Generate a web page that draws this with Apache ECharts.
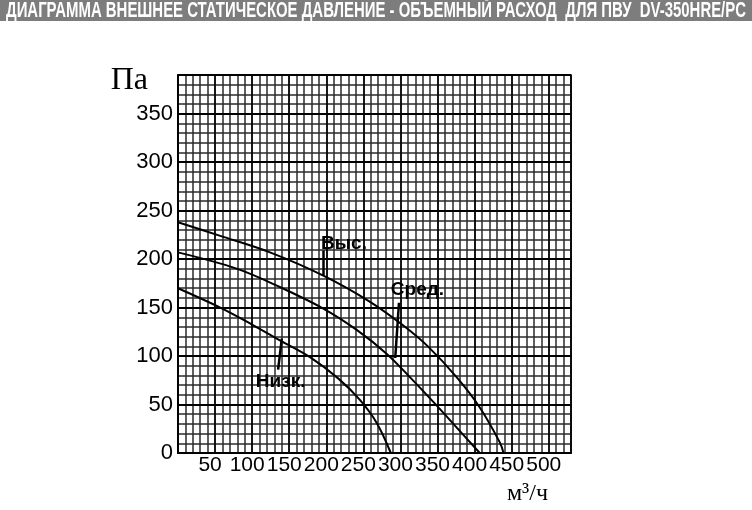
<!DOCTYPE html>
<html><head><meta charset="utf-8">
<script src="https://cdn.jsdelivr.net/npm/echarts@6/dist/echarts.min.js"></script>
<style>html,body{margin:0;padding:0;background:#fff}#c{width:752px;height:510px}</style>
</head><body><div id="c"></div>
<script>
const TITLE = 'ДИАГРАММА ВНЕШНЕЕ СТАТИЧЕСКОЕ ДАВЛЕНИЕ - ОБЪЕМНЫЙ РАСХОД  ДЛЯ ПВУ  DV-350HRE/PC';
const Y_NAME = 'Па';
const X_NAME = 'м³/ч';
const X_MAX = 530;
const Y_MAX = 390;

// curves: flow (m3/h) and static pressure (Pa)
const flowHigh  = [0, 57, 124, 196, 259, 303, 337, 376, 407, 434, 439];
const pressHigh = [238, 224, 207, 183, 156, 132, 110, 78, 47, 11, 0];
const flowMid   = [0, 80, 138, 196, 241, 282, 313, 344, 375, 407];
const pressMid  = [207, 190, 171, 149, 127, 102, 78, 53, 27, 0];
const flowLow   = [0, 57, 101, 138, 178, 216, 245, 268, 287];
const pressLow  = [170, 150, 132, 116, 99, 77, 55, 31, 0];

const curveNames = ['Выс.', 'Сред.', 'Низк.'];
const labelAt = [[193, 216], [287, 168], [105, 73]];
const pointerFrom = [[196, 209], [298, 155], [140, 118]];
const pointerTo = [[196, 183], [293, 98], [135, 86]];

const flows = [flowHigh, flowMid, flowLow];
const presses = [pressHigh, pressMid, pressLow];

const chart = echarts.init(document.getElementById('c'), null, {renderer: 'canvas'});

const cv = document.createElement('canvas').getContext('2d');
const titleFont = 'bold 22px "Liberation Sans", Arial, sans-serif';
cv.font = titleFont;
const titleScale = 740 / cv.measureText(TITLE).width;

const series = flows.map((f, i) => ({
  type: 'line',
  xAxisIndex: 1, yAxisIndex: 1,
  data: f.map((v, j) => [v, presses[i][j]]),
  smooth: 0.35,
  symbol: 'none',
  lineStyle: {color: '#000', width: 2},
  z: 5,
  markLine: {
    silent: true, symbol: ['none', 'none'],
    lineStyle: {color: '#000', width: 2.5, type: 'solid'},
    label: {show: false},
    data: [[{coord: pointerFrom[i]}, {coord: pointerTo[i]}]]
  },
  markPoint: {
    silent: true, symbol: 'circle', symbolSize: 0,
    label: {show: true, position: 'right', distance: 0, formatter: curveNames[i],
      color: '#000', fontWeight: 'bold', fontSize: 19, fontFamily: 'Liberation Sans'},
    data: [{coord: labelAt[i]}]
  }
}));

const hidden = {axisLine: {show: false}, axisTick: {show: false}, axisLabel: {show: false}};

chart.setOption({
  animation: false,
  backgroundColor: '#fff',
  graphic: [
    {type: 'rect', left: 0, top: 0, shape: {width: 752, height: 21}, style: {fill: '#7d7d7d'}, z: 10},
    {type: 'text', x: 376, y: 11, scaleX: titleScale, z: 11,
      style: {text: TITLE, font: titleFont, fill: '#fff', textAlign: 'center', textVerticalAlign: 'middle'}}
  ],
  grid: {left: 178, top: 75, width: 393, height: 378, show: true, borderColor: '#000', borderWidth: 1.5, outerBoundsMode: 'none'},
  xAxis: [
    Object.assign({type: 'value', min: 0, max: X_MAX, interval: 10, z: 1,
      splitLine: {show: true, lineStyle: {color: '#2a2a2a', width: 1.5}}}, hidden),
    {type: 'value', min: 0, max: X_MAX, interval: 50, position: 'bottom', z: 3,
      axisLine: {show: true, onZero: false, lineStyle: {color: '#000', width: 2}},
      axisTick: {show: false},
      splitLine: {show: true, lineStyle: {color: '#000', width: 1.5}},
      axisLabel: {show: true, margin: 2, fontSize: 21, color: '#000', fontFamily: 'Liberation Sans',
        padding: [0, 10, 0, 0],
        formatter: v => (v > 0 && v % 50 === 0 && v <= 500) ? String(v) : ''},
      name: X_NAME, nameLocation: 'end', nameGap: -23,
      nameTextStyle: {fontFamily: 'Liberation Serif', fontSize: 24, color: '#000', align: 'right', verticalAlign: 'top', padding: [29, 0, 0, 0]}
    }
  ],
  yAxis: [
    Object.assign({type: 'value', min: 0, max: Y_MAX, interval: 10, z: 1,
      splitLine: {show: true, lineStyle: {color: '#2a2a2a', width: 1.5}}}, hidden),
    {type: 'value', min: 0, max: Y_MAX, interval: 50, position: 'left', z: 3,
      axisLine: {show: true, onZero: false, lineStyle: {color: '#000', width: 2}},
      axisTick: {show: false},
      splitLine: {show: true, lineStyle: {color: '#000', width: 2}},
      axisLabel: {show: true, margin: 5, fontSize: 22, color: '#000', fontFamily: 'Liberation Sans',
        formatter: v => (v % 50 === 0 && v <= 350) ? String(v) : ''},
      name: Y_NAME, nameLocation: 'end', nameGap: -6,
      nameTextStyle: {fontFamily: 'Liberation Serif', fontSize: 32, color: '#000', align: 'right', verticalAlign: 'middle', padding: [0, 30, 0, 0]}
    }
  ],
  series: series
});
</script></body></html>
